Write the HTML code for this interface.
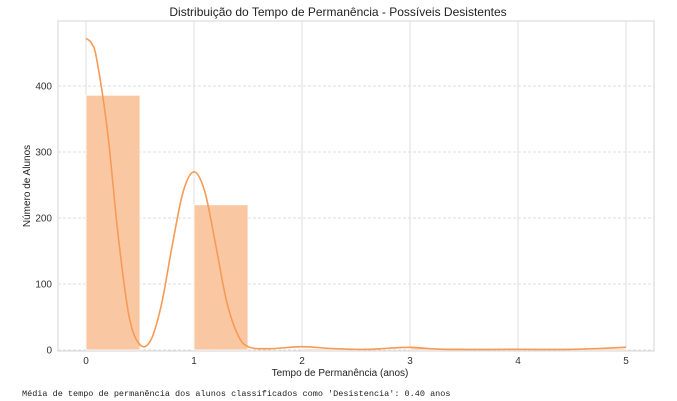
<!DOCTYPE html>
<html><head><meta charset="utf-8"><style>
body{margin:0;background:#fff;width:677px;height:401px;overflow:hidden;font-family:"Liberation Sans",sans-serif}
svg{position:absolute;left:0;top:0}
</style></head><body>
<svg width="677" height="401">
<g id="grid"></g>
<g id="bars"></g>
<path id="kde" fill="none" stroke="#f79a55" stroke-width="1.6"/>
<rect x="58" y="21" width="596" height="330" fill="none" stroke="#d6d6d6" stroke-width="1"/>
<g id="ticks" font-size="10" fill="#333"></g>
<text x="338" y="16" text-anchor="middle" font-size="12" fill="#222">Distribuição do Tempo de Permanência - Possíveis Desistentes</text>
<text x="340" y="376" text-anchor="middle" font-size="10" fill="#222">Tempo de Permanência (anos)</text>
<text transform="translate(30,186) rotate(-90)" text-anchor="middle" font-size="10" fill="#222">Número de Alunos</text>
<text x="22" y="396" font-family="Liberation Mono,monospace" font-size="8.5" fill="#222">Média de tempo de permanência dos alunos classificados como 'Desistencia': 0.40 anos</text>
</svg>
<script>
const binStarts=[0,1,2,3,4.5];
const binCounts=[386,220,2,3,2];
const binWidth=0.5;
const kdeX=[0,0.05,0.1,0.2,0.3,0.4,0.5,0.6,0.7,0.8,0.9,1.0,1.1,1.2,1.3,1.4,1.5,1.7,2.0,2.3,2.6,3.0,3.3,4.0,4.5,5.0];
const kdeY=[472,465,440,330,170,50,8,15,70,160,240,270,240,160,75,25,5,2,5,2,1,4,1,1,1,4];
const xTicks=[0,1,2,3,4,5];
const yTicks=[0,100,200,300,400];
const NS="http://www.w3.org/2000/svg";
const X=v=>86+v*108, Y=v=>350-v*0.66;
function mk(t,a,p){const e=document.createElementNS(NS,t);for(const k in a)e.setAttribute(k,a[k]);p.appendChild(e);return e;}
const g=document.getElementById('grid'),b=document.getElementById('bars'),tk=document.getElementById('ticks');
xTicks.forEach(v=>{
 const l=mk('line',{x1:X(v),x2:X(v),y1:21,y2:351,stroke:'#dcdcdc','stroke-width':1},g);
 
 
 const t=mk('text',{x:X(v),y:364,'text-anchor':'middle'},tk);t.textContent=v;
 
 
});
yTicks.forEach(v=>{
 const l=mk('line',{x1:58,x2:654,y1:Y(v),y2:Y(v),stroke:'#dedede','stroke-width':1,'stroke-dasharray':'3,2'},g);
 
 
 const t=mk('text',{x:52,y:Y(v)+3.5,'text-anchor':'end'},tk);t.textContent=v;
 
 
});
binStarts.forEach((s,i)=>{
 const r=mk('rect',{x:X(s),y:Y(binCounts[i]),width:X(s+binWidth)-X(s),height:Y(0)-Y(binCounts[i]),fill:'#f9c8a3',stroke:'#fff','stroke-width':0.8},b);
 
 
});
const pts=kdeX.map((x,i)=>[X(x),Y(kdeY[i])]);
let d='M'+pts[0][0]+','+pts[0][1];
for(let i=0;i<pts.length-1;i++){const p0=pts[i-1]||pts[i],p1=pts[i],p2=pts[i+1],p3=pts[i+2]||p2;
 d+=' C'+(p1[0]+(p2[0]-p0[0])/6)+','+(p1[1]+(p2[1]-p0[1])/6)+' '+(p2[0]-(p3[0]-p1[0])/6)+','+(p2[1]-(p3[1]-p1[1])/6)+' '+p2[0]+','+p2[1];}
document.getElementById('kde').setAttribute('d',d);
</script>
</body></html>
